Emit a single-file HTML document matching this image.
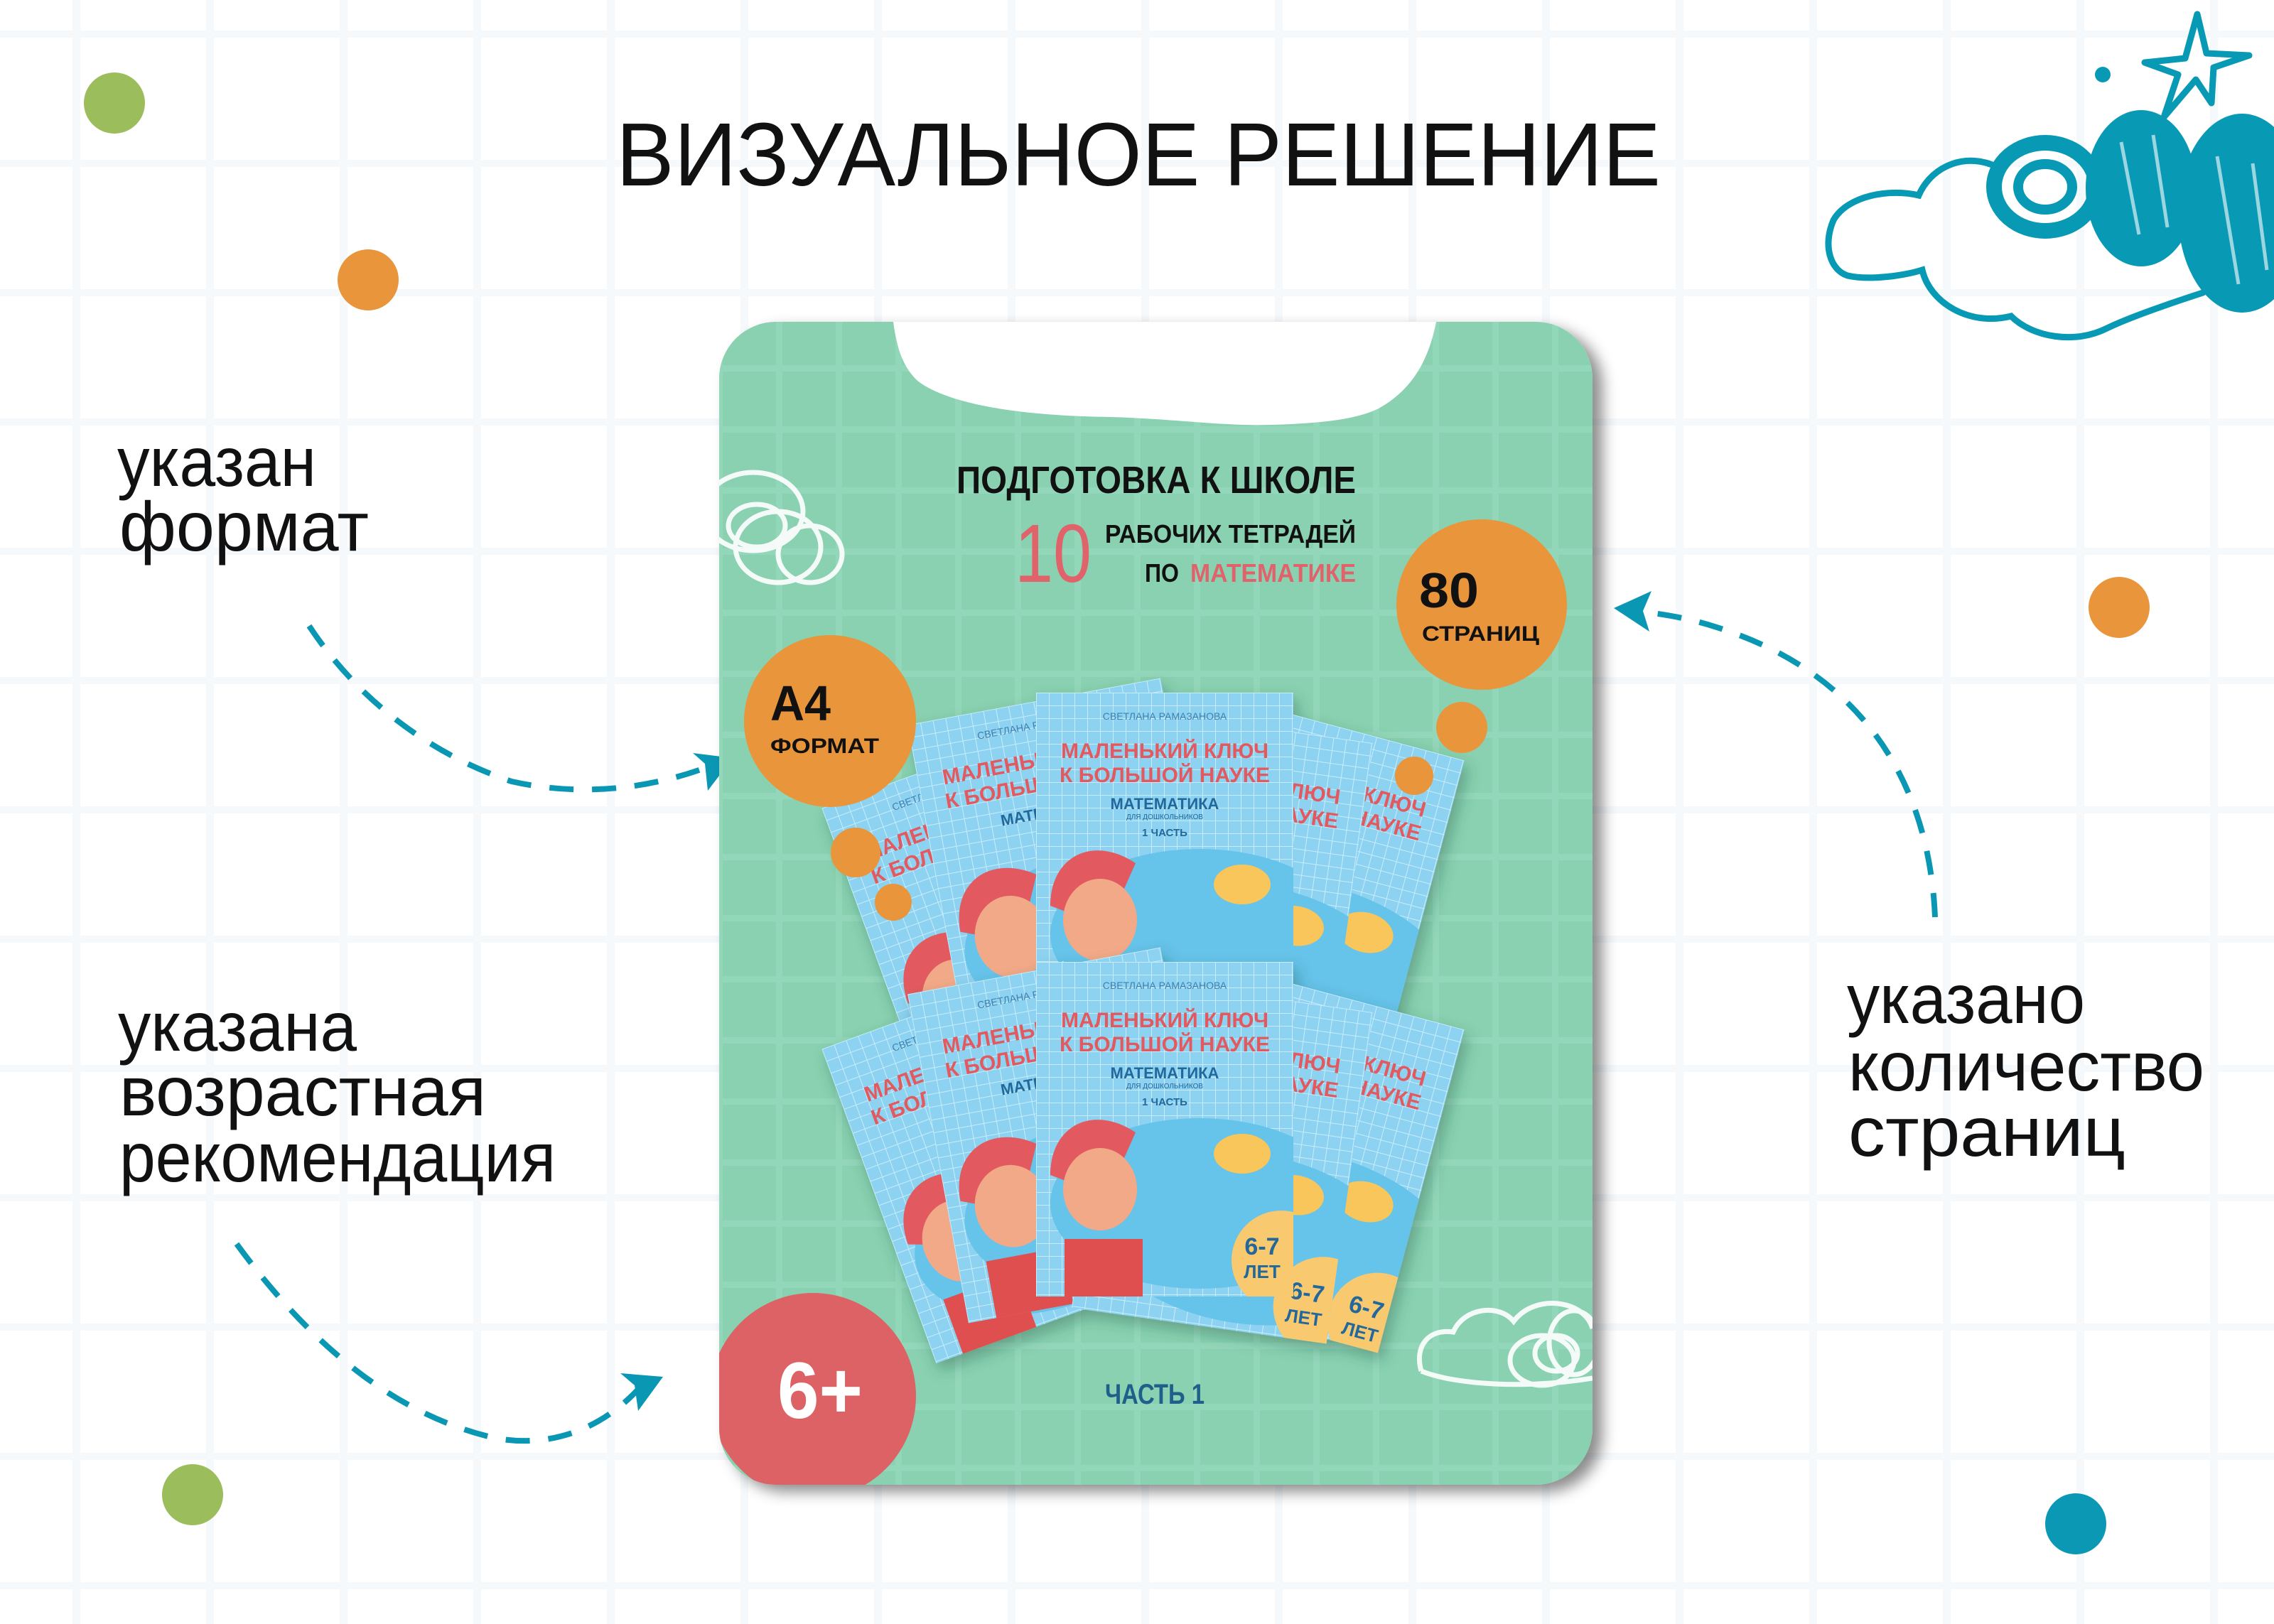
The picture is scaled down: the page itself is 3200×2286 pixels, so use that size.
<!DOCTYPE html>
<html><head><meta charset="utf-8">
<style>html,body{margin:0;padding:0;background:#fff}svg{display:block}</style>
</head><body>
<svg width="3200" height="2286" viewBox="0 0 3200 2286" xmlns="http://www.w3.org/2000/svg" font-family="'Liberation Sans', sans-serif">
<defs>
<pattern id="pg" x="290" y="43" width="188" height="182" patternUnits="userSpaceOnUse">
<rect x="0" y="0" width="11" height="182" fill="#f5f9fc"/><rect x="0" y="0" width="188" height="10" fill="#f5f9fc"/>
</pattern>
<pattern id="cg" x="1008" y="428" width="84" height="86" patternUnits="userSpaceOnUse">
<rect x="0" y="0" width="9" height="86" fill="#93d7ba"/><rect x="0" y="0" width="84" height="9" fill="#93d7ba"/>
</pattern>
<pattern id="bgrid" x="0" y="0" width="18" height="18" patternUnits="userSpaceOnUse">
<path d="M0 0H18M0 0V18" stroke="#c9ecfa" stroke-width="2" fill="none"/>
</pattern>
<clipPath id="bc"><rect width="362" height="471"/></clipPath>
<clipPath id="card"><rect x="1012" y="453" width="1229" height="1637" rx="80"/></clipPath>
<filter id="sh" x="-10%" y="-10%" width="130%" height="130%"><feDropShadow dx="14" dy="10" stdDeviation="10" flood-color="#000" flood-opacity="0.45"/></filter>
<filter id="bsh" x="-20%" y="-20%" width="140%" height="140%"><feDropShadow dx="6" dy="10" stdDeviation="10" flood-color="#1c4a3a" flood-opacity="0.35"/></filter>
</defs>
<rect width="3200" height="2286" fill="#fff"/>
<rect width="3200" height="2286" fill="url(#pg)"/>

<!-- dots -->
<circle cx="161" cy="145" r="43" fill="#9bbd5b"/>
<circle cx="518" cy="394" r="43" fill="#e8953b"/>
<circle cx="2982" cy="855" r="43" fill="#e8953b"/>
<circle cx="271" cy="2104" r="43" fill="#9bbd5b"/>
<circle cx="2921" cy="2145" r="43" fill="#0b98b5"/>

<!-- top-right cloud -->
<g fill="none" stroke="#0899b5" stroke-linecap="round">
<path d="M2810,235 C2770,215 2720,230 2700,275 C2660,265 2600,275 2580,310 C2565,345 2575,380 2600,388 C2630,395 2680,388 2705,380 C2715,425 2770,460 2830,445 C2860,475 2920,485 2965,462 C3000,445 3060,425 3100,412" stroke-width="9"/>
<ellipse cx="2878" cy="263" rx="72" ry="62" stroke-width="22"/>
<ellipse cx="2878" cy="263" rx="38" ry="32" stroke-width="14"/>
</g>
<g fill="#0899b5">
<ellipse cx="3013" cy="265" rx="78" ry="110"/>
<ellipse cx="3155" cy="300" rx="90" ry="140"/>
</g>
<g fill="none" stroke="#fff" stroke-width="5" opacity="0.6">
<path d="M2985,200 L3010,330 M3030,190 L3050,320 M3120,220 L3150,400 M3170,230 L3190,380"/>
</g>
<path d="M3092,20 L3105,75 L3165,78 L3115,95 L3112,145 L3090,112 L3045,165 L3065,105 L3018,88 L3075,82 Z" fill="none" stroke="#0899b5" stroke-width="9" stroke-linejoin="round"/>
<circle cx="2959" cy="105" r="11" fill="#0899b5"/>

<!-- title -->
<text x="867" y="261" font-size="126" textLength="1470" lengthAdjust="spacingAndGlyphs" fill="#111">ВИЗУАЛЬНОЕ РЕШЕНИЕ</text>

<!-- side labels -->
<g font-size="98" fill="#111">
<text x="165" y="684" textLength="280" lengthAdjust="spacingAndGlyphs">указан</text>
<text x="168" y="775" textLength="351" lengthAdjust="spacingAndGlyphs">формат</text>
<text x="166" y="1479" textLength="336" lengthAdjust="spacingAndGlyphs">указана</text>
<text x="168" y="1570" textLength="516" lengthAdjust="spacingAndGlyphs">возрастная</text>
<text x="168" y="1663" textLength="614" lengthAdjust="spacingAndGlyphs">рекомендация</text>
<text x="2599" y="1440" textLength="335" lengthAdjust="spacingAndGlyphs">указано</text>
<text x="2601" y="1535" textLength="501" lengthAdjust="spacingAndGlyphs">количество</text>
<text x="2601" y="1627" textLength="390" lengthAdjust="spacingAndGlyphs">страниц</text>
</g>

<!-- arrows -->
<g fill="none" stroke="#0a97b4" stroke-width="8" stroke-dasharray="34 26">
<path d="M435,881 C500,980 600,1060 720,1100 C830,1125 930,1105 1000,1078"/>
<path d="M333,1751 C420,1870 540,1990 700,2025 C790,2040 860,2000 905,1948"/>
<path d="M2723,1291 C2715,1100 2620,960 2450,895 C2400,876 2360,866 2300,860"/>
</g>
<g fill="#0a97b4">
<path d="M1031,1067 L975,1060 L992,1075 L996,1113 Z"/>
<path d="M933,1938 L873,1933 L893,1950 L898,1986 Z"/>
<path d="M2271,856 L2324,832 L2312,860 L2321,889 Z"/>
</g>

<!-- card -->
<rect x="1012" y="453" width="1229" height="1637" rx="80" fill="#89d1b0" filter="url(#sh)"/>
<g clip-path="url(#card)">
<rect x="1012" y="453" width="1229" height="1637" fill="url(#cg)"/>
<path d="M1257,453 C1262,490 1270,515 1290,535 C1320,560 1400,585 1563,587 C1660,590 1720,600 1788,598 C1860,596 1910,590 1940,575 C1985,550 2010,510 2021,453 Z" fill="#fff"/>
<g fill="none" stroke="#fff" stroke-width="7" opacity="0.9">
<ellipse cx="1060" cy="720" rx="70" ry="55"/><ellipse cx="1095" cy="770" rx="60" ry="50"/><ellipse cx="1140" cy="780" rx="45" ry="40"/><ellipse cx="1065" cy="740" rx="40" ry="30"/>
<path d="M2000,1930 C1990,1895 2010,1870 2045,1875 C2060,1840 2110,1835 2130,1860 C2160,1820 2230,1830 2241,1870 M2000,1930 C2050,1950 2150,1955 2241,1940"/>
<ellipse cx="2170" cy="1915" rx="45" ry="35"/><ellipse cx="2190" cy="1905" rx="30" ry="25"/><ellipse cx="2215" cy="1890" rx="35" ry="45"/>
</g>

<text x="1346" y="694" font-size="54" font-weight="bold" textLength="562" lengthAdjust="spacingAndGlyphs" fill="#111">ПОДГОТОВКА К ШКОЛЕ</text>
<text x="1428" y="819" font-size="116" textLength="108" lengthAdjust="spacingAndGlyphs" fill="#e0636b">10</text>
<text x="1555" y="764" font-size="36" font-weight="bold" textLength="353" lengthAdjust="spacingAndGlyphs" fill="#111">РАБОЧИХ ТЕТРАДЕЙ</text>
<text x="1611" y="819" font-size="36" font-weight="bold" textLength="48" lengthAdjust="spacingAndGlyphs" fill="#111">ПО</text>
<text x="1675" y="819" font-size="36" font-weight="bold" textLength="233" lengthAdjust="spacingAndGlyphs" fill="#e0636b">МАТЕМАТИКЕ</text>

<!-- top row books -->
<g filter="url(#bsh)">
<g transform="translate(1407,1297) rotate(-20) translate(-181,-235.5)"><g clip-path="url(#bc)"><rect width="362" height="471" fill="#8dd3f1"/><rect width="362" height="471" fill="url(#bgrid)"/><ellipse cx="230" cy="340" rx="210" ry="120" fill="#66c3ea"/><text x="181" y="38" font-size="14" fill="#3d7fae" text-anchor="middle">СВЕТЛАНА РАМАЗАНОВА</text><text x="181" y="92" font-size="30" font-weight="bold" fill="#e25a5f" text-anchor="middle">МАЛЕНЬКИЙ КЛЮЧ</text><text x="181" y="126" font-size="30" font-weight="bold" fill="#e25a5f" text-anchor="middle">К БОЛЬШОЙ НАУКЕ</text><path d="M20,300 C20,230 80,200 140,240 L100,330 Z" fill="#e25a5f"/><ellipse cx="90" cy="320" rx="52" ry="58" fill="#f2a988"/><rect x="40" y="390" width="110" height="90" fill="#e0504f"/></g></g>
<g transform="translate(1825,1251) rotate(15) translate(-181,-235.5)"><g clip-path="url(#bc)"><rect width="362" height="471" fill="#8dd3f1"/><rect width="362" height="471" fill="url(#bgrid)"/><ellipse cx="230" cy="340" rx="210" ry="120" fill="#66c3ea"/><text x="181" y="92" font-size="30" font-weight="bold" fill="#e25a5f" text-anchor="middle">МАЛЕНЬКИЙ КЛЮЧ</text><text x="181" y="126" font-size="30" font-weight="bold" fill="#e25a5f" text-anchor="middle">К БОЛЬШОЙ НАУКЕ</text><ellipse cx="290" cy="270" rx="40" ry="28" fill="#f8c65a"/></g></g>
<g transform="translate(1498,1219) rotate(-10.5) translate(-181,-235.5)"><g clip-path="url(#bc)"><rect width="362" height="471" fill="#8dd3f1"/><rect width="362" height="471" fill="url(#bgrid)"/><ellipse cx="230" cy="340" rx="210" ry="120" fill="#66c3ea"/><text x="181" y="38" font-size="14" fill="#3d7fae" text-anchor="middle">СВЕТЛАНА РАМАЗАНОВА</text><text x="181" y="92" font-size="30" font-weight="bold" fill="#e25a5f" text-anchor="middle">МАЛЕНЬКИЙ КЛЮЧ</text><text x="181" y="126" font-size="30" font-weight="bold" fill="#e25a5f" text-anchor="middle">К БОЛЬШОЙ НАУКЕ</text><text x="181" y="164" font-size="22" font-weight="bold" fill="#23679a" text-anchor="middle">МАТЕМАТИКА</text><path d="M20,300 C20,230 80,200 140,240 L100,330 Z" fill="#e25a5f"/><ellipse cx="90" cy="320" rx="52" ry="58" fill="#f2a988"/><rect x="40" y="390" width="110" height="90" fill="#e0504f"/></g></g>
<g transform="translate(1720,1254) rotate(8) translate(-181,-235.5)"><g clip-path="url(#bc)"><rect width="362" height="471" fill="#8dd3f1"/><rect width="362" height="471" fill="url(#bgrid)"/><ellipse cx="230" cy="340" rx="210" ry="120" fill="#66c3ea"/><text x="181" y="92" font-size="30" font-weight="bold" fill="#e25a5f" text-anchor="middle">МАЛЕНЬКИЙ КЛЮЧ</text><text x="181" y="126" font-size="30" font-weight="bold" fill="#e25a5f" text-anchor="middle">К БОЛЬШОЙ НАУКЕ</text><ellipse cx="290" cy="270" rx="40" ry="28" fill="#f8c65a"/></g></g>
<g transform="translate(1639,1210.5) translate(-181,-235.5)"><g clip-path="url(#bc)"><rect width="362" height="471" fill="#8dd3f1"/><rect width="362" height="471" fill="url(#bgrid)"/><ellipse cx="230" cy="340" rx="210" ry="120" fill="#66c3ea"/><text x="181" y="38" font-size="14" fill="#3d7fae" text-anchor="middle">СВЕТЛАНА РАМАЗАНОВА</text><text x="181" y="92" font-size="30" font-weight="bold" fill="#e25a5f" text-anchor="middle">МАЛЕНЬКИЙ КЛЮЧ</text><text x="181" y="126" font-size="30" font-weight="bold" fill="#e25a5f" text-anchor="middle">К БОЛЬШОЙ НАУКЕ</text><text x="181" y="164" font-size="22" font-weight="bold" fill="#23679a" text-anchor="middle">МАТЕМАТИКА</text><text x="181" y="178" font-size="10" fill="#23679a" text-anchor="middle">ДЛЯ ДОШКОЛЬНИКОВ</text><text x="181" y="202" font-size="15" font-weight="bold" fill="#23679a" text-anchor="middle">1 ЧАСТЬ</text><path d="M20,300 C20,230 80,200 140,240 L100,330 Z" fill="#e25a5f"/><ellipse cx="90" cy="320" rx="52" ry="58" fill="#f2a988"/><rect x="40" y="390" width="110" height="90" fill="#e0504f"/><ellipse cx="290" cy="270" rx="40" ry="28" fill="#f8c65a"/></g></g>
</g>

<!-- bottom row books -->
<g filter="url(#bsh)">
<g transform="translate(1407,1636) rotate(-20) translate(-181,-235.5)"><g clip-path="url(#bc)"><rect width="362" height="471" fill="#8dd3f1"/><rect width="362" height="471" fill="url(#bgrid)"/><ellipse cx="230" cy="340" rx="210" ry="120" fill="#66c3ea"/><text x="181" y="38" font-size="14" fill="#3d7fae" text-anchor="middle">СВЕТЛАНА РАМАЗАНОВА</text><text x="181" y="92" font-size="30" font-weight="bold" fill="#e25a5f" text-anchor="middle">МАЛЕНЬКИЙ КЛЮЧ</text><text x="181" y="126" font-size="30" font-weight="bold" fill="#e25a5f" text-anchor="middle">К БОЛЬШОЙ НАУКЕ</text><path d="M20,300 C20,230 80,200 140,240 L100,330 Z" fill="#e25a5f"/><ellipse cx="90" cy="320" rx="52" ry="58" fill="#f2a988"/><rect x="40" y="390" width="110" height="90" fill="#e0504f"/></g></g>
<g transform="translate(1825,1630) rotate(15) translate(-181,-235.5)"><g clip-path="url(#bc)"><rect width="362" height="471" fill="#8dd3f1"/><rect width="362" height="471" fill="url(#bgrid)"/><ellipse cx="230" cy="340" rx="210" ry="120" fill="#66c3ea"/><text x="181" y="92" font-size="30" font-weight="bold" fill="#e25a5f" text-anchor="middle">МАЛЕНЬКИЙ КЛЮЧ</text><text x="181" y="126" font-size="30" font-weight="bold" fill="#e25a5f" text-anchor="middle">К БОЛЬШОЙ НАУКЕ</text><ellipse cx="290" cy="270" rx="40" ry="28" fill="#f8c65a"/><circle cx="350" cy="430" r="70" fill="#f9c970"/><text x="330" y="425" font-size="34" font-weight="bold" fill="#23679a" text-anchor="middle">6-7</text><text x="330" y="458" font-size="26" font-weight="bold" fill="#23679a" text-anchor="middle">ЛЕТ</text></g></g>
<g transform="translate(1498,1598) rotate(-10.5) translate(-181,-235.5)"><g clip-path="url(#bc)"><rect width="362" height="471" fill="#8dd3f1"/><rect width="362" height="471" fill="url(#bgrid)"/><ellipse cx="230" cy="340" rx="210" ry="120" fill="#66c3ea"/><text x="181" y="38" font-size="14" fill="#3d7fae" text-anchor="middle">СВЕТЛАНА РАМАЗАНОВА</text><text x="181" y="92" font-size="30" font-weight="bold" fill="#e25a5f" text-anchor="middle">МАЛЕНЬКИЙ КЛЮЧ</text><text x="181" y="126" font-size="30" font-weight="bold" fill="#e25a5f" text-anchor="middle">К БОЛЬШОЙ НАУКЕ</text><text x="181" y="164" font-size="22" font-weight="bold" fill="#23679a" text-anchor="middle">МАТЕМАТИКА</text><path d="M20,300 C20,230 80,200 140,240 L100,330 Z" fill="#e25a5f"/><ellipse cx="90" cy="320" rx="52" ry="58" fill="#f2a988"/><rect x="40" y="390" width="110" height="90" fill="#e0504f"/></g></g>
<g transform="translate(1720,1633) rotate(8) translate(-181,-235.5)"><g clip-path="url(#bc)"><rect width="362" height="471" fill="#8dd3f1"/><rect width="362" height="471" fill="url(#bgrid)"/><ellipse cx="230" cy="340" rx="210" ry="120" fill="#66c3ea"/><text x="181" y="92" font-size="30" font-weight="bold" fill="#e25a5f" text-anchor="middle">МАЛЕНЬКИЙ КЛЮЧ</text><text x="181" y="126" font-size="30" font-weight="bold" fill="#e25a5f" text-anchor="middle">К БОЛЬШОЙ НАУКЕ</text><ellipse cx="290" cy="270" rx="40" ry="28" fill="#f8c65a"/><circle cx="350" cy="420" r="70" fill="#f9c970"/><text x="325" y="415" font-size="34" font-weight="bold" fill="#23679a" text-anchor="middle">6-7</text><text x="325" y="448" font-size="26" font-weight="bold" fill="#23679a" text-anchor="middle">ЛЕТ</text></g></g>
<g transform="translate(1639,1589.5) translate(-181,-235.5)"><g clip-path="url(#bc)"><rect width="362" height="471" fill="#8dd3f1"/><rect width="362" height="471" fill="url(#bgrid)"/><ellipse cx="230" cy="340" rx="210" ry="120" fill="#66c3ea"/><text x="181" y="38" font-size="14" fill="#3d7fae" text-anchor="middle">СВЕТЛАНА РАМАЗАНОВА</text><text x="181" y="92" font-size="30" font-weight="bold" fill="#e25a5f" text-anchor="middle">МАЛЕНЬКИЙ КЛЮЧ</text><text x="181" y="126" font-size="30" font-weight="bold" fill="#e25a5f" text-anchor="middle">К БОЛЬШОЙ НАУКЕ</text><text x="181" y="164" font-size="22" font-weight="bold" fill="#23679a" text-anchor="middle">МАТЕМАТИКА</text><text x="181" y="178" font-size="10" fill="#23679a" text-anchor="middle">ДЛЯ ДОШКОЛЬНИКОВ</text><text x="181" y="202" font-size="15" font-weight="bold" fill="#23679a" text-anchor="middle">1 ЧАСТЬ</text><path d="M20,300 C20,230 80,200 140,240 L100,330 Z" fill="#e25a5f"/><ellipse cx="90" cy="320" rx="52" ry="58" fill="#f2a988"/><rect x="40" y="390" width="110" height="90" fill="#e0504f"/><ellipse cx="290" cy="270" rx="40" ry="28" fill="#f8c65a"/><circle cx="345" cy="420" r="70" fill="#f9c970"/><text x="318" y="412" font-size="34" font-weight="bold" fill="#23679a" text-anchor="middle">6-7</text><text x="318" y="445" font-size="26" font-weight="bold" fill="#23679a" text-anchor="middle">ЛЕТ</text></g></g>
</g>

<circle cx="2085" cy="851" r="120" fill="#e8953b"/>
<text x="1997" y="855" font-size="70" font-weight="bold" textLength="84" lengthAdjust="spacingAndGlyphs" fill="#111">80</text>
<text x="2001" y="902" font-size="30" font-weight="bold" textLength="165" lengthAdjust="spacingAndGlyphs" fill="#111">СТРАНИЦ</text>
<circle cx="2057" cy="1024" r="36" fill="#e8953b"/>
<circle cx="1990" cy="1092" r="27" fill="#e8953b"/>
<circle cx="1168" cy="1015" r="121" fill="#e8953b"/>
<text x="1084" y="1014" font-size="70" font-weight="bold" textLength="85" lengthAdjust="spacingAndGlyphs" fill="#111">А4</text>
<text x="1084" y="1060" font-size="30" font-weight="bold" textLength="153" lengthAdjust="spacingAndGlyphs" fill="#111">ФОРМАТ</text>
<circle cx="1204" cy="1200" r="35" fill="#e8953b"/>
<circle cx="1257" cy="1270" r="26" fill="#e8953b"/>

<circle cx="1144" cy="1965" r="145" fill="#dc6265"/>
<text x="1094" y="1996" font-size="112" font-weight="bold" textLength="120" lengthAdjust="spacingAndGlyphs" fill="#fff">6+</text>
<text x="1555" y="1976" font-size="40" font-weight="bold" textLength="140" lengthAdjust="spacingAndGlyphs" fill="#1f5f8b">ЧАСТЬ 1</text>
</g>
</svg>
</body></html>
